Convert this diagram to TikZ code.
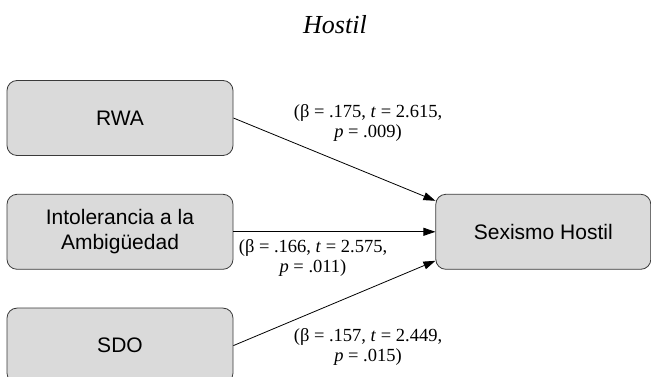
\documentclass[tikz,border=0pt]{standalone}
\usepackage{fontspec}
\setmainfont{Liberation Serif}
\setsansfont{Liberation Sans}
\usetikzlibrary{positioning, arrows.meta}
\definecolor{boxfill}{HTML}{DADADA}
\definecolor{boxline}{HTML}{3A3A3A}

\begin{document}
\begin{tikzpicture}[x=1pt, y=1pt,
    var/.style={rectangle, rounded corners=10pt, draw=boxline, fill=boxfill,
      line width=0.8pt, minimum width=226pt, minimum height=75pt, align=center,
      font=\sffamily\fontsize{21}{25}\selectfont},
    coef/.style={align=center, font=\fontsize{18.5}{20}\selectfont},
    path/.style={->, line width=0.8pt},
    >={Triangle[length=12pt,width=8pt]}]

  \useasboundingbox (0,0) rectangle (651,377);
  \node[anchor=base, font=\itshape\fontsize{26}{30}\selectfont] (title) at (335,343) {Hostil};

  \node[var] (rwa) at (120,259) {RWA};
  \node[var, below=38pt of rwa] (intol) {Intolerancia a la\\Ambigüedad};
  \node[var, below=38pt of intol] (sdo) {SDO};
  \node[var, minimum width=215pt, right=202pt of intol] (hs) {Sexismo Hostil};

  \draw[path] (rwa.east) -- ([yshift=31pt]hs.west);
  \draw[path] (intol.east) -- (hs.west);
  \draw[path] (sdo.east) -- ([yshift=-29pt]hs.west);

  \node[coef] (c1) at (368,254.5) {(β = .175, \textit{t} = 2.615,\\\textit{p} = .009)};
  \node[coef] (c2) at (313,119.5) {(β = .166, \textit{t} = 2.575,\\\textit{p} = .011)};
  \node[coef] (c3) at (368,30) {(β = .157, \textit{t} = 2.449,\\\textit{p} = .015)};
\end{tikzpicture}
\end{document}
